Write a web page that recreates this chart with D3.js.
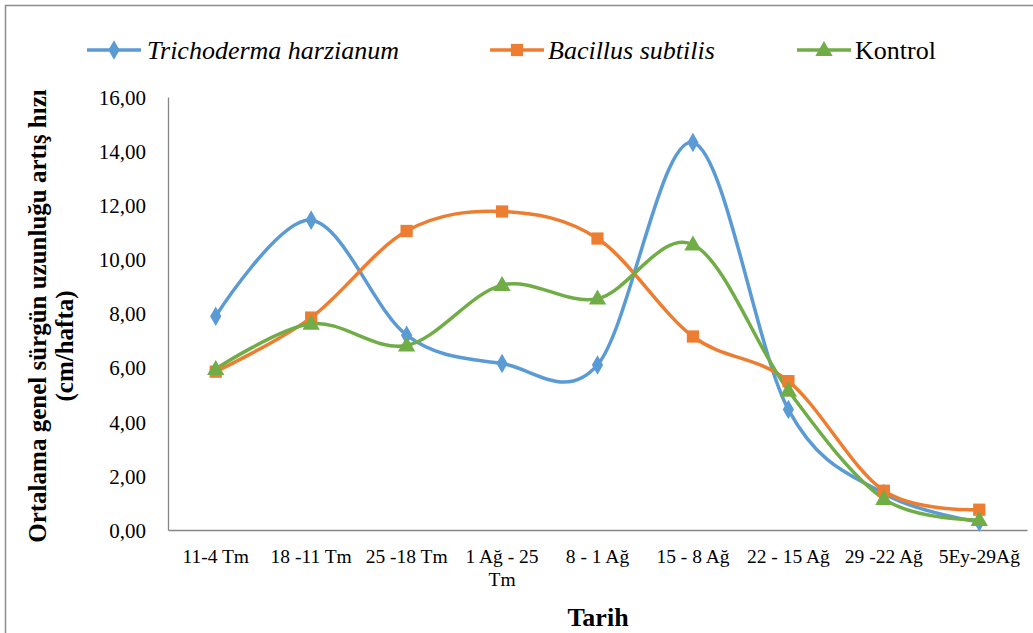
<!DOCTYPE html>
<html>
<head>
<meta charset="utf-8">
<script src="https://cdn.jsdelivr.net/npm/d3@7"></script>
<style>
html,body{margin:0;padding:0;background:#fff;}
svg{display:block;}
text{font-family:"Liberation Serif","Times New Roman",serif;fill:#000;}
</style>
</head>
<body>
<svg id="chart" width="1033" height="633"></svg>
<script>
const categories = [["11-4 Tm"],["18 -11 Tm"],["25 -18 Tm"],["1 Ağ - 25","Tm"],["8 - 1 Ağ"],["15 - 8 Ağ"],["22 - 15 Ağ"],["29 -22 Ağ"],["5Ey-29Ağ"]];
const trichoderma = [7.9, 11.45, 7.2, 6.15, 6.1, 14.32, 4.45, 1.35, 0.3];
const bacillus = [5.85, 7.85, 11.05, 11.77, 10.77, 7.15, 5.5, 1.45, 0.75];
const kontrol = [5.95, 7.62, 6.82, 9.05, 8.55, 10.55, 5.15, 1.15, 0.37];
const yTicks = [0, 2, 4, 6, 8, 10, 12, 14, 16];
const seriesNames = ["Trichoderma harzianum", "Bacillus subtilis", "Kontrol"];
const seriesColors = ["#5B9BD5", "#ED7D31", "#70AD47"];
const seriesSymbols = ["diamond", "square", "triangle"];

(function(){
const FONT = "'Liberation Serif','Times New Roman',serif";
const svg = d3.select("#chart");
// outer border
svg.append("rect").attr("x",5.5).attr("y",5.5).attr("width",1040).attr("height",640)
  .attr("fill","none").attr("stroke","#8c8c8c").attr("stroke-width",1.5);

const pLeft = 168, pRight = 1027, pTop = 97, pBottom = 530;
const x = d3.scaleBand().domain(d3.range(categories.length)).range([pLeft, pRight]);
const y = d3.scaleLinear().domain([0, 16]).range([pBottom, pTop]);

// y axis
const yAxis = d3.axisLeft(y).tickValues(yTicks).tickSize(0).tickPadding(22)
  .tickFormat(d => d3.format(".2f")(d).replace(".", ","));
const gy = svg.append("g").attr("transform", `translate(${pLeft},0)`).call(yAxis);
gy.attr("font-family", null);
gy.select(".domain").attr("stroke","#868686").attr("stroke-width",1.3);
gy.selectAll("text").attr("dy","0.35em")
  .style("font-family", FONT).style("font-size","21px");

// x axis
const xAxis = d3.axisBottom(x).tickSize(0).tickFormat(() => "");
const gx = svg.append("g").attr("transform", `translate(0,${pBottom})`).call(xAxis);
gx.attr("font-family", null);
gx.select(".domain").attr("stroke","#868686").attr("stroke-width",1.3);
gx.selectAll(".tick").each(function(d){
  const t = d3.select(this).append("text").attr("text-anchor","middle")
    .style("font-family", FONT).style("font-size","19.5px");
  categories[d].forEach((ln,i) => {
    t.append("tspan").attr("x",0).attr("y", 33 + i*23).text(ln);
  });
});

// axis titles
svg.append("text").attr("x", 598).attr("y", 626).attr("text-anchor","middle")
  .style("font-family", FONT).style("font-size","26px").attr("font-weight","bold").text("Tarih");
svg.append("text").attr("transform","translate(46,316) rotate(-90)").attr("text-anchor","middle")
  .style("font-family", FONT).style("font-size","25px").attr("font-weight","bold").text("Ortalama genel sürgün uzunluğu artış hızı");
svg.append("text").attr("transform","translate(73,346) rotate(-90)").attr("text-anchor","middle")
  .style("font-family", FONT).style("font-size","25px").attr("font-weight","bold").text("(cm/hafta)");

const allSeries = [trichoderma, bacillus, kontrol];
const symbolType = {diamond: d3.symbolDiamond, square: d3.symbolSquare, triangle: d3.symbolTriangle};
const symbolSize = {diamond: 110, square: 150, triangle: 130};

const lineGen = d3.line().x((d,i) => x(i) + x.bandwidth()/2).y(d => y(d)).curve(d3.curveCatmullRom.alpha(0));

allSeries.forEach((vals, si) => {
  svg.append("path").datum(vals).attr("d", lineGen).attr("fill","none")
    .attr("stroke", seriesColors[si]).attr("stroke-width", 3.5).attr("stroke-linejoin","round");
});
allSeries.forEach((vals, si) => {
  const sym = d3.symbol().type(symbolType[seriesSymbols[si]]).size(symbolSize[seriesSymbols[si]]);
  svg.append("g").selectAll("path").data(vals).join("path")
    .attr("d", sym)
    .attr("transform", (d,i) => `translate(${x(i) + x.bandwidth()/2},${y(d) + (seriesSymbols[si]==="triangle"?1:0)})`)
    .attr("fill", seriesColors[si]);
});

// legend
const legendItems = [
  {lx: 87, tx: 147},
  {lx: 490, tx: 548},
  {lx: 797, tx: 855}
];
legendItems.forEach((it, si) => {
  const g = svg.append("g");
  g.append("line").attr("x1", it.lx).attr("x2", it.lx + 54).attr("y1", 50).attr("y2", 50)
    .attr("stroke", seriesColors[si]).attr("stroke-width", 3.5);
  g.append("path").attr("d", d3.symbol().type(symbolType[seriesSymbols[si]]).size(symbolSize[seriesSymbols[si]])())
    .attr("transform", `translate(${it.lx + 27},${50 + (seriesSymbols[si]==="triangle"?1:0)})`).attr("fill", seriesColors[si]);
  g.append("text").attr("x", it.tx).attr("y", 50).attr("dy","0.35em")
    .style("font-family", FONT).style("font-size","26px")
    .style("font-style", si < 2 ? "italic" : "normal").text(seriesNames[si]);
});
})();
</script>
</body>
</html>
